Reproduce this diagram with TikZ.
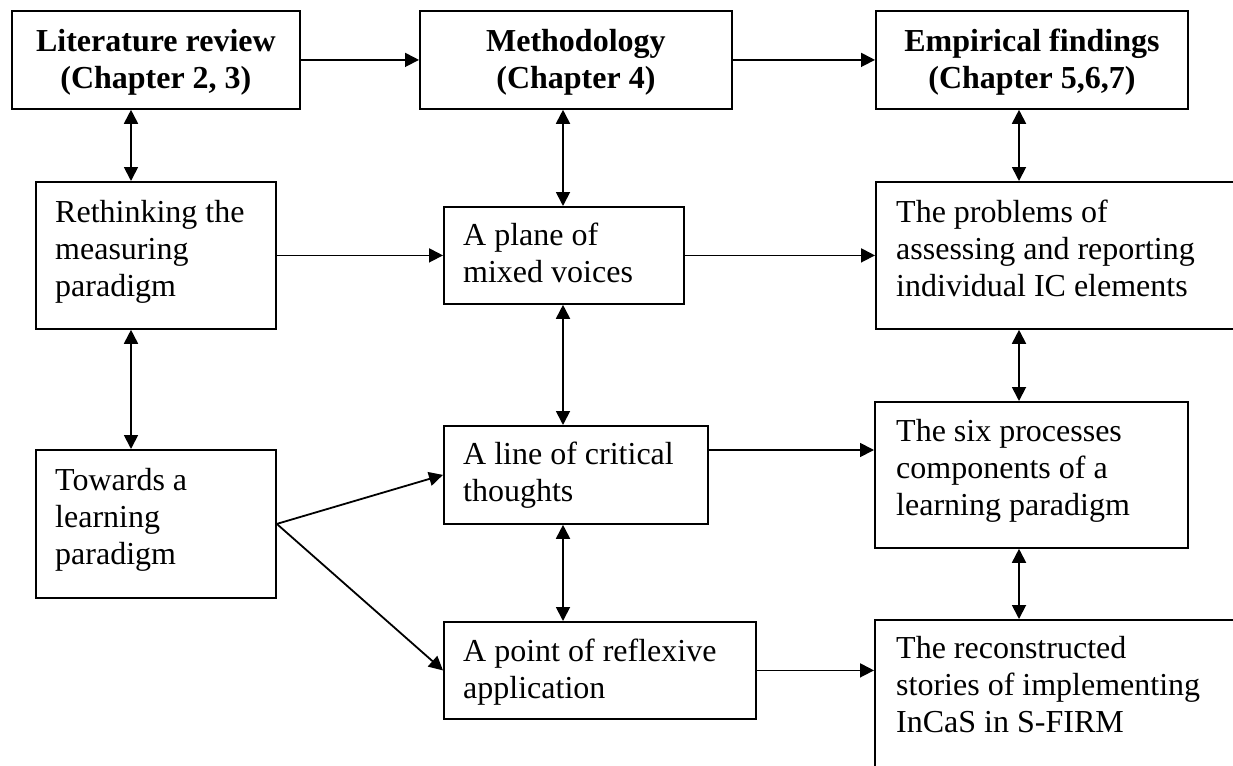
\documentclass[tikz,border=0pt]{standalone}
\usepackage{fontspec}
\setmainfont{Liberation Serif}
\usetikzlibrary{arrows.meta,calc}
% stacked lines, baseline on the first line
\newcommand{\stackl}[1]{\begin{tabular}[t]{@{}l@{}}#1\end{tabular}}
\newcommand{\stackc}[1]{\begin{tabular}[t]{@{}c@{}}#1\end{tabular}}

\begin{document}
\begin{tikzpicture}[x=1pt,y=-1pt,
  frame/.style={draw, line width=1.8pt, rectangle, inner sep=0pt, anchor=north west},
  body/.style={anchor=base west, inner sep=0pt, font=\fontsize{32}{37}\selectfont},
  head/.style={anchor=base, inner sep=0pt, font=\fontsize{32}{37}\selectfont\bfseries},
  tip/.style={Triangle[length=14pt,width=14pt]},
  link/.style={line width=1.8pt, -{Triangle[length=14pt,width=14pt]}},
  both/.style={line width=1.8pt, {Triangle[length=14pt,width=14pt]}-{Triangle[length=14pt,width=14pt]}}]

\useasboundingbox (0,0) rectangle (1233,765);
\fill[white] (0,0) rectangle (1233,765);
\clip (0,0) rectangle (1233,765);

% chapter headers
\node[frame, minimum width=288pt, minimum height=98pt] (lit) at (11,10) {};
\node[frame, minimum width=312pt, minimum height=98pt] (meth) at (419,10) {};
\node[frame, minimum width=312pt, minimum height=98pt] (emp) at (875,10) {};
\node[head] (lit-t) at ($(lit.north)+(0,42)$) {\stackc{Literature review\\(Chapter 2, 3)}};
\node[head] (meth-t) at ($(meth.north)+(0,42)$) {\stackc{Methodology\\(Chapter 4)}};
\node[head] (emp-t) at ($(emp.north)+(0,42)$) {\stackc{Empirical findings\\(Chapter 5,6,7)}};

% left column
\node[frame, minimum width=240pt, minimum height=147pt] (rt) at (35,181) {};
\node[frame, minimum width=240pt, minimum height=148pt] (tw) at (35,449) {};
\node[body] (rt-t) at ($(rt.north west)+(20,41)$) {\stackl{Rethinking the\\measuring\\paradigm}};
\node[body] (tw-t) at ($(tw.north west)+(20,41)$) {\stackl{Towards a\\learning\\paradigm}};

% middle column
\node[frame, minimum width=240pt, minimum height=97pt] (plane) at (443,206) {};
\node[frame, minimum width=264pt, minimum height=98pt] (line) at (443,425) {};
\node[frame, minimum width=312pt, minimum height=97pt] (point) at (443,621) {};
\node[body] (plane-t) at ($(plane.north west)+(20,39)$) {\stackl{A plane of\\mixed voices}};
\node[body] (line-t) at ($(line.north west)+(20,39)$) {\stackl{A line of critical\\thoughts}};
\node[body] (point-t) at ($(point.north west)+(20,40)$) {\stackl{A point of reflexive\\application}};

% right column
\node[frame, minimum width=400pt, minimum height=147pt] (prob) at (875,181) {};
\node[frame, minimum width=313pt, minimum height=146pt] (six) at (874,401) {};
\node[frame, minimum width=400pt, minimum height=180pt] (recon) at (874,619) {};
\node[body] (prob-t) at ($(prob.north west)+(21,41)$) {\stackl{The problems of\\assessing and reporting\\individual IC elements}};
\node[body] (six-t) at ($(six.north west)+(22,40)$) {\stackl{The six processes\\components of a\\learning paradigm}};
\node[body] (recon-t) at ($(recon.north west)+(22,39)$) {\stackl{The reconstructed\\stories of implementing\\InCaS in S-FIRM}};

% horizontal flow
\draw[link] (lit.east) -- (meth.west);
\draw[link] (meth.east) -- (emp.west);
\draw[link] (rt.east) -- (plane.west);
\draw[link] (plane.east) -- (prob.west |- plane.east);
\draw[link] (line.east |- 0,450) -- (six.west |- 0,450);
\draw[link] (point.east) -- (recon.west |- point.east);
\draw[link] (tw.east) -- (line.west);
\draw[link] (tw.east) -- (point.west);

% vertical links
\draw[both] (lit.south -| 131,0) -- (rt.north -| 131,0);
\draw[both] (rt.south -| 131,0) -- (tw.north -| 131,0);
\draw[both] (meth.south -| 563,0) -- (plane.north -| 563,0);
\draw[both] (plane.south -| 563,0) -- (line.north -| 563,0);
\draw[both] (line.south -| 563,0) -- (point.north -| 563,0);
\draw[both] (emp.south -| 1019,0) -- (prob.north -| 1019,0);
\draw[both] (prob.south -| 1019,0) -- (six.north -| 1019,0);
\draw[both] (six.south -| 1019,0) -- (recon.north -| 1019,0);
\end{tikzpicture}
\end{document}
